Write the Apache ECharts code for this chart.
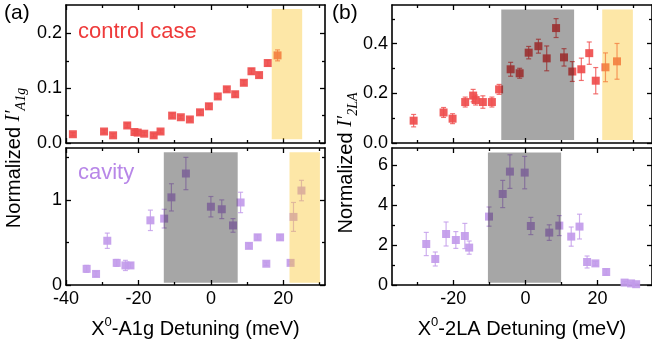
<!DOCTYPE html>
<html><head><meta charset="utf-8">
<script src="https://cdn.jsdelivr.net/npm/echarts@6/dist/echarts.min.js"></script>
<style>html,body{margin:0;padding:0;background:#fff}#c{width:652px;height:343px}</style>
</head><body><div id="c"></div>
<script>
// ---- Data ----
// (a) top: control case, A1g
const ctrlX = [-38.1,-29.5,-27.0,-23.1,-21.1,-20.2,-18.4,-15.8,-13.9,-10.7,-8.3,-5.8,-3.0,-0.55,1.9,4.4,6.7,9.1,11.2,13.3,15.7,18.4];
const ctrlY = [0.016,0.021,0.014,0.032,0.020,0.019,0.017,0.014,0.021,0.050,0.047,0.043,0.056,0.067,0.085,0.098,0.089,0.110,0.131,0.124,0.146,0.160];
const ctrlErr = [0.003,0.003,0.003,0.004,0.003,0.003,0.003,0.003,0.003,0.004,0.003,0.003,0.004,0.005,0.004,0.004,0.004,0.004,0.005,0.004,0.005,0.010];
// (a) bottom: cavity, A1g
const cavX = [-34.3,-31.7,-28.6,-26.0,-23.6,-22.2,-16.7,-12.9,-10.9,-6.9,0.0,3.0,6.1,8.2,10.5,12.9,15.3,19.1,22.0,22.8,25.0];
const cavY = [0.19,0.13,0.52,0.26,0.23,0.23,0.76,0.78,1.03,1.31,0.92,0.89,0.70,0.97,0.46,0.56,0.25,0.56,0.26,0.80,1.11];
const cavErr = [0.04,0.03,0.09,0.04,0.06,0.03,0.12,0.11,0.16,0.19,0.12,0.11,0.08,0.12,0.03,0.03,0.02,0.03,0.02,0.17,0.12];
// (b) top: control case, 2LA
const ctrl2X = [-31.0,-22.7,-20.2,-16.7,-14.5,-13.8,-11.8,-9.3,-7.3,-4.1,-1.6,0.9,3.6,5.9,8.5,10.7,13.0,15.5,17.7,19.5,22.2,25.4];
const ctrl2Y = [0.090,0.123,0.098,0.165,0.191,0.173,0.165,0.165,0.216,0.297,0.281,0.364,0.390,0.341,0.463,0.345,0.288,0.297,0.362,0.251,0.305,0.329];
const ctrl2Err = [0.025,0.02,0.02,0.02,0.025,0.02,0.025,0.02,0.02,0.028,0.02,0.025,0.028,0.05,0.038,0.035,0.04,0.045,0.045,0.053,0.058,0.072];
// (b) bottom: cavity, 2LA
const cav2X = [-27.5,-25.0,-22.0,-19.3,-16.8,-15.6,-10.1,-6.3,-4.3,-0.2,1.5,6.6,9.4,12.7,15.0,17.1,19.4,22.4,27.5,29.3,30.7];
const cav2Y = [2.05,1.30,2.55,2.25,2.45,1.87,3.42,4.55,5.67,5.62,2.95,2.62,2.97,2.42,2.92,1.15,1.08,0.65,0.12,0.08,0.04];
const cav2Err = [0.58,0.35,0.60,0.42,0.63,0.33,0.48,0.68,0.84,0.81,0.43,0.39,0.50,0.48,0.62,0.30,0.10,0.15,0.05,0.05,0.04];
// shaded regions [x0, x1, y0, y1]
const boxA_top_yellow = [16.8, 25.2, 0.007, 0.2447];
const boxA_bot_gray   = [-13.0, 7.4, 0.027, 1.56];
const boxA_bot_yellow = [21.7, 30.1, 0.027, 1.56];
const boxB_top_gray   = [-6.7, 13.5, 0.012, 0.538];
const boxB_top_yellow = [21.3, 29.8, 0.012, 0.538];
const boxB_bot_gray   = [-10.4, 9.9, 0.11, 6.63];
// ticks
const xMajorA = [-40,-20,0,20], xMinorA = [-30,-10,10,30];
const xMajorB = [-20,0,20], xMinorB = [-30,-10,10,30];
const yMajorTL = [0,0.1,0.2], yMinorTL = [0.05,0.15];
const yMajorBL = [0,1], yMinorBL = [0.5,1.5];
const yMajorTR = [0,0.2,0.4], yMinorTR = [0.1,0.3,0.5];
const yMajorBR = [0,2,4,6], yMinorBR = [1,3,5];

// ---- Styling ----
const RED = '#ef4d4d', PURPLE = '#c29bea';
const GRAY = 'rgba(0,0,0,0.35)', YELLOW = 'rgba(250,200,50,0.43)';
const FONT = 'Liberation Sans';
const grids = [
  {left:66, top:5, width:259, height:138},
  {left:66, top:148, width:259, height:137},
  {left:392, top:5, width:262, height:138},
  {left:392, top:148, width:262, height:137}
];
const panels = [
  {xr:[-40,31.5], yr:[0,0.252], xM:xMajorA, xm:xMinorA, yM:yMajorTL, ym:yMinorTL, xl:false, yf:v=>v.toFixed(1)},
  {xr:[-40,31.5], yr:[0,1.61], xM:xMajorA, xm:xMinorA, yM:yMajorBL, ym:yMinorBL, xl:true, yf:v=>String(v),
    name:'{n|X}{p|0}{n|-A1g Detuning (meV)}'},
  {xr:[-37,35.1], yr:[0,0.556], xM:xMajorB, xm:xMinorB, yM:yMajorTR, ym:yMinorTR, xl:false, yf:v=>v.toFixed(1)},
  {xr:[-37,35.1], yr:[0,6.85], xM:xMajorB, xm:xMinorB, yM:yMajorBR, ym:yMinorBR, xl:true, yf:v=>String(v),
    name:'{n|X}{p|0}{n|-2LA Detuning (meV)}'}
];
const xAxes = [], yAxes = [];
panels.forEach((p, i) => {
  const mk = (isX, pos, vals, major, labels, fmt) => {
    const a = {
      type:'value', gridIndex:i, position:pos,
      min: isX ? p.xr[0] : p.yr[0], max: isX ? p.xr[1] : p.yr[1],
      splitLine:{show:false},
      axisLine:{show:major, onZero:false, lineStyle:{color:'#000', width:1.6}},
      axisTick:{show:true, inside:true, length: major ? 5 : 3, customValues: vals, lineStyle:{color:'#000', width:1.3}},
      axisLabel:{show:labels, customValues: vals, formatter: fmt, color:'#000', fontSize:18, fontFamily:FONT, margin: isX ? 5 : 4}
    };
    return a;
  };
  xAxes.push(mk(true,'bottom',p.xM,true,p.xl,v=>String(v)));
  xAxes.push(mk(true,'bottom',p.xm,false,false));
  xAxes.push(mk(true,'top',p.xM,true,false));
  xAxes.push(mk(true,'top',p.xm,false,false));
  yAxes.push(mk(false,'left',p.yM,true,true,p.yf));
  yAxes.push(mk(false,'left',p.ym,false,false));
  yAxes.push(mk(false,'right',p.yM,true,false));
  yAxes.push(mk(false,'right',p.ym,false,false));
  if (p.name) {
    const ax = xAxes[4*i];
    ax.name = p.name; ax.nameLocation = 'middle'; ax.nameGap = 30;
    ax.nameTextStyle = {rich:{
      n:{fontSize:20, fontFamily:FONT, color:'#000', lineHeight:24, verticalAlign:'bottom'},
      p:{fontSize:13, fontFamily:FONT, color:'#000', lineHeight:14, padding:[0,0,10,0], verticalAlign:'bottom'}
    }};
  }
});

function zip3(a,b,c){ return a.map((v,i)=>[v,b[i],c[i]]); }
function scatter(i, xs, ys, color){
  return {type:'scatter', xAxisIndex:4*i, yAxisIndex:4*i, symbol:'rect', symbolSize:8, z:3,
    itemStyle:{color:color, opacity:0.92}, data: xs.map((v,k)=>[v, ys[k]])};
}
function errbars(i, xs, ys, es, color){
  return {type:'custom', xAxisIndex:4*i, yAxisIndex:4*i, z:2, silent:true,
    data: zip3(xs, ys, es),
    renderItem: function(params, api){
      const x = api.value(0), y = api.value(1), e = api.value(2);
      const lo = api.coord([x, y - e]), hi = api.coord([x, y + e]);
      const w = 2.5, st = {stroke:color, lineWidth:1.2, opacity:0.8};
      return {type:'group', children:[
        {type:'line', shape:{x1:lo[0], y1:lo[1], x2:hi[0], y2:hi[1]}, style:st},
        {type:'line', shape:{x1:lo[0]-w, y1:lo[1], x2:lo[0]+w, y2:lo[1]}, style:st},
        {type:'line', shape:{x1:hi[0]-w, y1:hi[1], x2:hi[0]+w, y2:hi[1]}, style:st}
      ]};
    }};
}
function box(i, b, color){
  return {type:'custom', xAxisIndex:4*i, yAxisIndex:4*i, z:10, silent:true,
    data:[b],
    renderItem: function(params, api){
      const p0 = api.coord([api.value(0), api.value(3)]);
      const p1 = api.coord([api.value(1), api.value(2)]);
      return {type:'rect', shape:{x:p0[0], y:p0[1], width:p1[0]-p0[0], height:p1[1]-p0[1]}, style:{fill:color}};
    }};
}

const ytitleRich = (sub) => ({
  text:'{n|Normalized }{i|I′}{s|' + sub + '}',
  rich:{
    n:{fontSize:20, fontFamily:FONT, fill:'#000', lineHeight:24, verticalAlign:'top'},
    i:{fontSize:20, fontFamily:'Liberation Serif', fontStyle:'italic', fill:'#000', lineHeight:24, verticalAlign:'top'},
    s:{fontSize:14, fontFamily:'Liberation Serif', fontStyle:'italic', fill:'#000', lineHeight:16, padding:[10,0,0,0], verticalAlign:'top'}
  },
  align:'center', verticalAlign:'middle'
});

const chart = echarts.init(document.getElementById('c'), null, {renderer:'canvas'});
chart.setOption({
  animation:false,
  backgroundColor:'#fff',
  grid: grids,
  xAxis: xAxes,
  yAxis: yAxes,
  series: [
    errbars(0, ctrlX, ctrlY, ctrlErr, RED), scatter(0, ctrlX, ctrlY, RED), box(0, boxA_top_yellow, YELLOW),
    errbars(1, cavX, cavY, cavErr, PURPLE), scatter(1, cavX, cavY, PURPLE), box(1, boxA_bot_gray, GRAY), box(1, boxA_bot_yellow, YELLOW),
    errbars(2, ctrl2X, ctrl2Y, ctrl2Err, RED), scatter(2, ctrl2X, ctrl2Y, RED), box(2, boxB_top_gray, GRAY), box(2, boxB_top_yellow, YELLOW),
    errbars(3, cav2X, cav2Y, cav2Err, PURPLE), scatter(3, cav2X, cav2Y, PURPLE), box(3, boxB_bot_gray, GRAY)
  ],
  graphic: [
    {type:'text', x:4, y:3, style:{text:'(a)', fontSize:21, fontFamily:FONT, fill:'#000'}},
    {type:'text', x:332, y:3, style:{text:'(b)', fontSize:21, fontFamily:FONT, fill:'#000'}},
    {type:'text', x:78, y:32, style:{text:'control case', fontSize:22, fontFamily:FONT, fill:'#ee3a3a', verticalAlign:'middle'}},
    {type:'text', x:78, y:173, style:{text:'cavity', fontSize:22, fontFamily:FONT, fill:'#b887e8', verticalAlign:'middle'}},
    {type:'text', x:16, y:158, rotation:Math.PI/2, style:ytitleRich('A1g')},
    {type:'text', x:348, y:163, rotation:Math.PI/2, style:ytitleRich('2LA')}
  ]
});
</script>
</body></html>
